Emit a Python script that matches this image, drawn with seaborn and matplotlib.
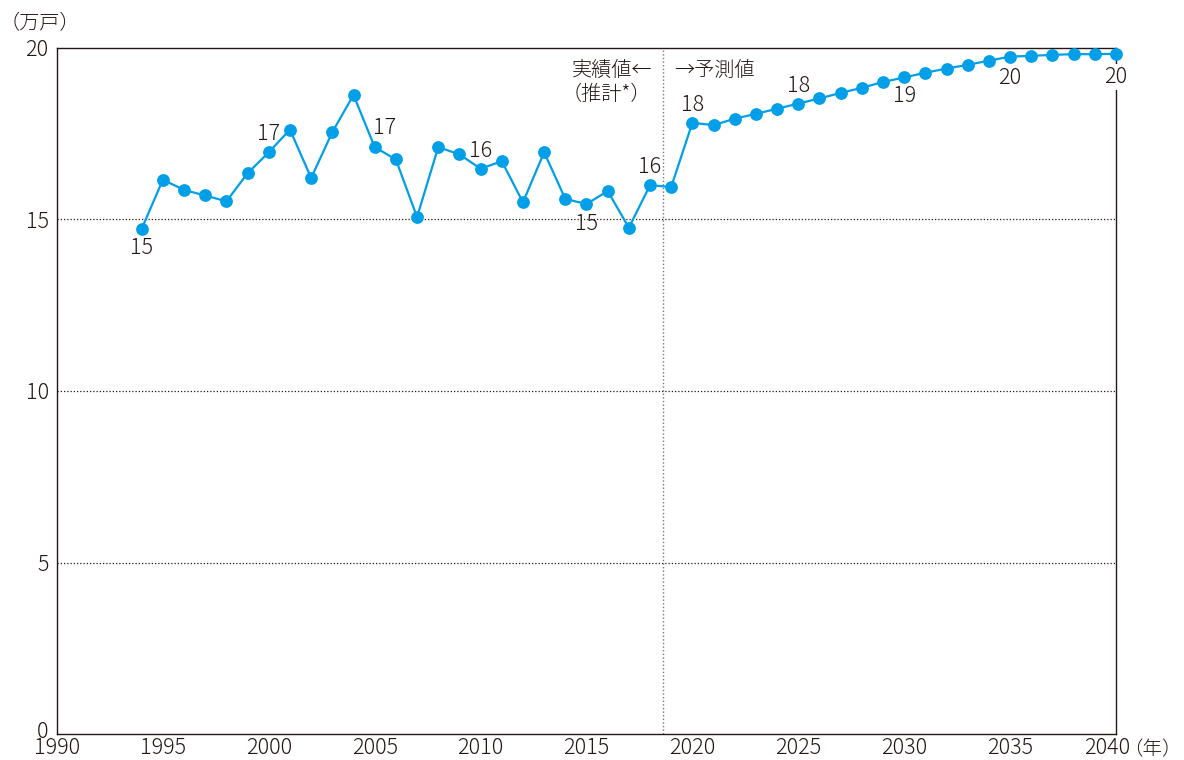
import matplotlib
matplotlib.use("Agg")
import matplotlib.pyplot as plt
import matplotlib.transforms as mtransforms
import seaborn as sns
import pandas as pd

# ---- data ----
years = list(range(1994, 2041))
values = [
    14.73, 16.16, 15.86, 15.70, 15.53, 16.35, 16.96, 17.62, 16.21, 17.55,   # 1994-2003
    18.63, 17.11, 16.75, 15.07, 17.11, 16.90, 16.48, 16.70, 15.50, 16.96,   # 2004-2013
    15.60, 15.45, 15.83, 14.76, 16.00, 15.95, 17.82, 17.75, 17.94, 18.08,   # 2014-2023
    18.23, 18.38, 18.53, 18.69, 18.84, 19.01, 19.14, 19.28, 19.40, 19.51,   # 2024-2033
    19.63, 19.75, 19.77, 19.80, 19.82, 19.82, 19.83,                        # 2034-2040
]
label_years = [1994, 2000, 2005, 2010, 2015, 2018, 2020, 2025, 2030, 2035, 2040]
label_texts = ["15", "17", "17", "16", "15", "16", "18", "18", "19", "20", "20"]
x_ticks = [1990, 1995, 2000, 2005, 2010, 2015, 2020, 2025, 2030, 2035, 2040]
y_ticks = [0, 5, 10, 15, 20]
split_year = 2018.6

df = pd.DataFrame({"year": years, "value": values})

BLUE = "#009FE8"
INK = "#231815"
W, H = 1184, 760
FS = 15.5

sns.set_style("white")
plt.rcParams["font.family"] = ["Noto Sans CJK JP", "DejaVu Sans"]
plt.rcParams["font.weight"] = "light"
plt.rcParams["text.color"] = INK

fig = plt.figure(figsize=(W / 100, H / 100), dpi=100)
ax = fig.add_axes([57 / W, 1 - 734 / H, (1116 - 57) / W, (734 - 48) / H])

# grid and split line
for yv in y_ticks[1:-1]:
    ax.axhline(yv, color=INK, lw=0.9, ls=(0, (1, 1.6)), zorder=1)
ax.axvline(split_year, color="#777777", lw=1.0, ls=(0, (1, 1.6)), zorder=1)

sns.lineplot(data=df, x="year", y="value", ax=ax, color=BLUE, marker="o",
             markersize=9.2, markeredgewidth=0, linewidth=1.6, zorder=4,
             clip_on=False)

ax.set_xlim(1990, 2040)
ax.set_ylim(0, 20)
ax.set_xticks(x_ticks)
ax.set_yticks(y_ticks)
ax.set_xticklabels([str(t) for t in x_ticks])
ax.set_yticklabels([str(t) for t in y_ticks])
ax.set_xlabel("")
ax.set_ylabel("")
ax.tick_params(axis="both", direction="in", length=4, width=0.9, color=INK,
               labelsize=FS, labelcolor=INK)
ax.tick_params(axis="x", pad=2)
ax.tick_params(axis="y", pad=6)
for s in ["left", "bottom", "top", "right"]:
    ax.spines[s].set_visible(True)
    ax.spines[s].set_color(INK)
    ax.spines[s].set_linewidth(1.0)

# shift the last x tick label left to make room for the unit
last = ax.get_xticklabels()[-1]
last.set_transform(last.get_transform() +
                   mtransforms.ScaledTranslation(-9 / 100, 0, fig.dpi_scale_trans))
# nudge the y "0" label up slightly so it sits above "1990"
zero = ax.get_yticklabels()[0]
zero.set_transform(zero.get_transform() +
                   mtransforms.ScaledTranslation(0, 5 / 100, fig.dpi_scale_trans))

# value labels
offsets = {
    1994: (0, -19), 2000: (0, 18), 2005: (10, 19), 2010: (0, 18),
    2015: (0, -20), 2018: (0, 18), 2020: (0, 18), 2025: (0, 18),
    2030: (0, -19), 2035: (0, -21), 2040: (0, -23),
}
for yr, txt in zip(label_years, label_texts):
    v = values[years.index(yr)]
    kw = {}
    if yr == 2040:
        kw["bbox"] = dict(boxstyle="square,pad=0.1", fc="white", ec="none")
    ax.annotate(txt, (yr, v), xytext=offsets[yr], textcoords="offset pixels",
                ha="center", va="center", fontsize=FS, color=INK,
                zorder=5, annotation_clip=False, **kw)

# annotations around split line
fig.text(652 / W, 1 - 70 / H, "実績値←", ha="right", va="center",
         fontsize=14.5, color=INK)
fig.text(562 / W, 1 - 94 / H, "（推計*）", ha="left", va="center",
         fontsize=14.5, color=INK)
fig.text(674 / W, 1 - 70 / H, "→予測値", ha="left", va="center",
         fontsize=14.5, color=INK)

# units
fig.text(0 / W, 1 - 24 / H, "（万戸）", ha="left", va="center",
         fontsize=14.5, color=INK)
fig.text(1182 / W, 1 - 750 / H, "（年）", ha="right", va="center",
         fontsize=14, color=INK)

fig.savefig("out.png", dpi=100)
